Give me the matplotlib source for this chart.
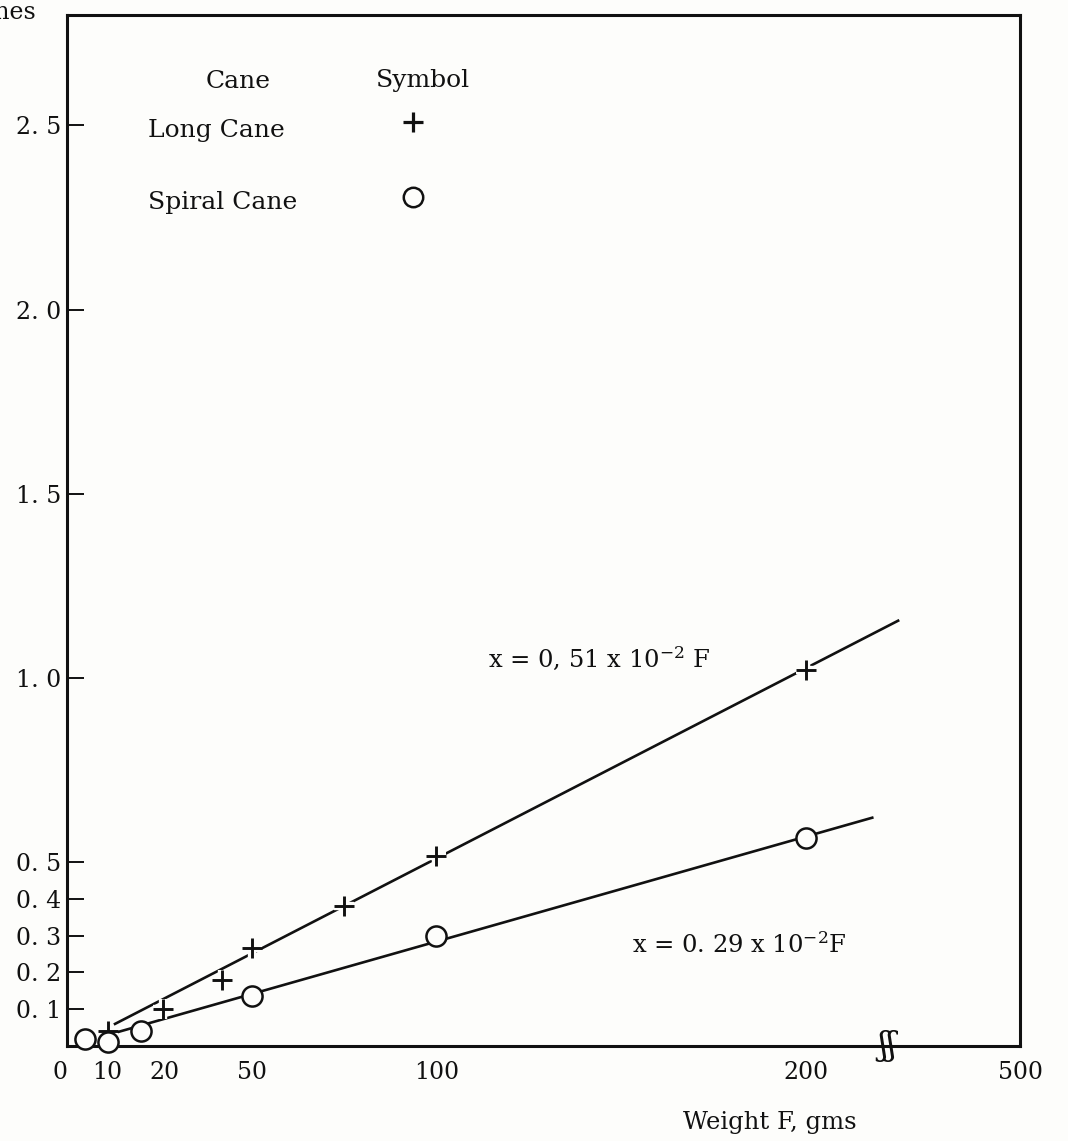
import matplotlib.pyplot as plt

# values (weight F in gms, deflection x in inches)
long_f = [11, 26, 42, 50, 75, 100, 200]
long_x = [0.04, 0.10, 0.18, 0.265, 0.38, 0.515, 1.02]
spiral_f = [5, 11, 20, 50, 100, 200]
spiral_x = [0.02, 0.01, 0.04, 0.135, 0.30, 0.565]

# drawn fit lines
long_fit_f = [13, 225]
long_fit_x = [0.06, 1.155]
spiral_fit_f = [11, 218]
spiral_fit_x = [0.03, 0.62]

y_ticks = [0.1, 0.2, 0.3, 0.4, 0.5, 1.0, 1.5, 2.0, 2.5]
y_tick_labels = ['0. 1', '0. 2', '0. 3', '0. 4', '0. 5', '1. 0', '1. 5', '2. 0', '2. 5']
x_tick_pos = [0, 11, 26.5, 50, 100, 200, 258]
x_tick_labels = ['0', '10', '20', '50', '100', '200', '500']
x_tick_marks = [50, 100, 200]

legend_names = ['Long Cane', 'Spiral Cane']

plt.rcParams['font.family'] = 'DejaVu Serif'
plt.rcParams['mathtext.fontset'] = 'dejavuserif'

W, H = 1068, 1141
bg = '#fdfdfb'
ink = '#111111'

def fx(px):
    return px / W

def fy(py):
    return 1 - py / H

fig = plt.figure(figsize=(W / 100, H / 100), dpi=100, facecolor=bg)
ax = fig.add_axes([fx(67), fy(1046), (1020 - 67) / W, (1046 - 15) / H])
ax.set_facecolor(bg)
ax.set_xlim(0, 258)
ax.set_ylim(0, 2.80)

for s in ax.spines.values():
    s.set_linewidth(2.2)
    s.set_color(ink)

# fit lines
ax.plot(long_fit_f, long_fit_x, color=ink, lw=1.9, zorder=2)
ax.plot(spiral_fit_f, spiral_fit_x, color=ink, lw=1.9, zorder=2)

# data markers (white halo under the crosses gives the gaps in the line)
ax.plot(long_f, long_x, ls='none', marker='+', ms=15, mew=6, color=bg, zorder=3)
ax.plot(long_f, long_x, ls='none', marker='+', ms=14, mew=2.1, color=ink, zorder=4)
ax.plot(spiral_f, spiral_x, ls='none', marker='o', ms=14.5, mew=1.8,
        mfc=bg, mec=ink, zorder=4, clip_on=False)

# axis ticks
ax.set_yticks(y_ticks)
ax.set_yticklabels(y_tick_labels)
ax.tick_params(axis='y', direction='in', length=12, width=1.4, pad=4,
               labelsize=17, colors=ink)
ax.set_xticks(x_tick_pos)
ax.set_xticklabels(x_tick_labels)
ax.set_xticks(x_tick_marks, minor=True)
ax.tick_params(axis='x', which='major', length=0, pad=11, labelsize=17,
               colors=ink)
ax.tick_params(axis='x', which='minor', direction='in', length=10, width=1.4,
               colors=ink)
ax.get_xticklabels()[0].set_ha('right')

# axis break
ax.text(222, 0.0, 'ʃʃ', fontsize=24, ha='center', va='center', color=ink,
        clip_on=False, zorder=5)

# equations
fig.text(fx(488), fy(658), r'x = 0, 51 x 10$^{-2}$ F', fontsize=17.5,
         va='center', ha='left', color=ink)
fig.text(fx(632), fy(945), r'x = 0. 29 x 10$^{-2}$F', fontsize=17.5,
         va='center', ha='left', color=ink)

# symbol key
fig.text(fx(238), fy(82), 'Cane', fontsize=18, ha='center', va='center', color=ink)
fig.text(fx(423), fy(80), 'Symbol', fontsize=18, ha='center', va='center', color=ink)
key_markers = ['+', 'o']
key_rows = [130, 203]
for name, m, ry in zip(legend_names, key_markers, key_rows):
    fig.text(fx(148), fy(ry), name, fontsize=18, ha='left', va='center', color=ink)
    if m == '+':
        ax.plot([fx(413)], [fy(ry - 8)], transform=fig.transFigure, marker='+',
                ms=14, mew=2.3, color=ink, clip_on=False)
    else:
        ax.plot([fx(413)], [fy(ry - 6)], transform=fig.transFigure, marker='o',
                ms=14, mew=1.8, mfc=bg, mec=ink, clip_on=False)

# axis titles
fig.text(fx(683), fy(1123), 'Weight F, gms', fontsize=17.5, ha='left',
         va='center', color=ink)
fig.text(fx(36), fy(12), 'x, inches', fontsize=17, ha='right', va='center',
         color=ink)

fig.savefig('out.png', dpi=100, facecolor=bg)
